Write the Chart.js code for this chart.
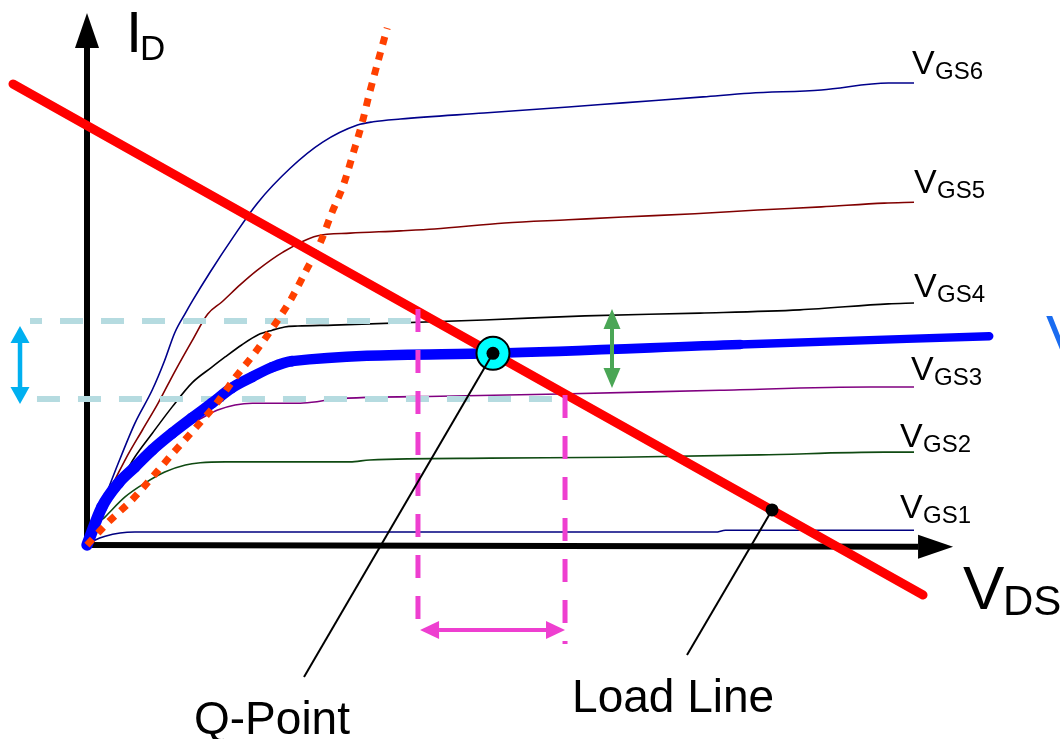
<!DOCTYPE html>
<html><head><meta charset="utf-8">
<script src="https://cdn.jsdelivr.net/npm/chart.js@4.4.1/dist/chart.umd.min.js"></script>
<style>html,body{margin:0;padding:0;background:#fff;}#wrap{width:1060px;height:739px;position:relative;}</style>
</head><body><div id="wrap"><canvas id="c"></canvas></div>
<script>
// ---- data (VDS, ID in arbitrary units) ----
const vgs1 = [[0,0],[0.10,0.11],[0.22,0.19],[0.40,0.26],[0.58,0.28],[3.8,0.28],[7.6,0.28],[7.72,0.32],[10,0.32]];
const vgs2 = [[0,0],[0.06,0.33],[0.22,0.61],[0.46,1.04],[0.70,1.34],[0.94,1.58],[1.19,1.73],[1.37,1.78],[1.67,1.80],[3.18,1.80],[3.42,1.84],[4.87,1.88],[6.44,1.90],[8.14,1.95],[9.64,2.01],[10,2.01]];
const vgs3 = [[0,0],[0.10,0.48],[0.22,0.82],[0.38,1.19],[0.58,1.62],[0.79,1.99],[0.98,2.34],[1.19,2.55],[1.39,2.75],[1.58,2.92],[1.79,3.03],[2.00,3.07],[2.58,3.07],[2.78,3.10],[2.98,3.16],[4.27,3.22],[5.72,3.27],[7.65,3.35],[9.47,3.42],[10,3.42]];
const vgs4 = [[0,0],[0.10,0.48],[0.30,1.04],[0.58,1.91],[0.79,2.42],[1.03,2.99],[1.27,3.51],[1.51,3.85],[1.67,4.07],[1.87,4.33],[2.07,4.55],[2.24,4.65],[2.39,4.72],[2.55,4.74],[2.98,4.76],[4.80,4.87],[6.02,4.96],[7.41,5.02],[8.62,5.09],[9.69,5.22],[10,5.24]];
const vgs5 = [[0,0],[0.10,0.43],[0.22,0.97],[0.46,1.84],[0.67,2.49],[0.86,3.07],[1.06,3.75],[1.27,4.42],[1.46,5.00],[1.63,5.26],[1.85,5.63],[2.06,5.95],[2.37,6.34],[2.78,6.69],[3.18,6.75],[3.79,6.80],[4.20,6.84],[5.05,6.97],[5.82,7.04],[6.48,7.10],[7.35,7.17],[8.11,7.25],[8.88,7.32],[9.64,7.40],[10,7.42]];
const vgs6 = [[0,0],[0.22,1.04],[0.38,1.78],[0.58,2.64],[0.79,3.36],[0.94,4.00],[1.06,4.59],[1.19,5.02],[1.28,5.30],[1.49,5.91],[1.77,6.67],[2.06,7.40],[2.46,8.16],[2.85,8.72],[3.27,9.09],[3.46,9.16],[3.79,9.22],[4.80,9.35],[5.82,9.48],[6.48,9.57],[7.45,9.70],[8.01,9.78],[8.88,9.85],[9.69,10.0],[10,10.0]];
const operating = [[0,0],[0.18,0.82],[0.38,1.34],[0.58,1.69],[0.79,2.06],[1.03,2.42],[1.27,2.75],[1.51,3.07],[1.75,3.40],[2.00,3.64],[2.24,3.85],[2.48,3.98],[4.91,4.15],[7.90,4.34],[10.91,4.52]];
const saturationEdge = [[0,0],[0.25,0.48],[0.54,0.97],[0.79,1.47],[1.04,1.99],[1.31,2.53],[1.55,3.03],[1.79,3.62],[2.03,4.16],[2.25,4.72],[2.46,5.30],[2.64,5.91],[2.82,6.54],[2.96,7.19],[3.10,7.79],[3.22,8.49],[3.33,9.16],[3.42,9.81],[3.63,11.19]];
const loadLine = [[-0.895,9.978],[10.109,-1.082]];
const qPoint = [[4.909,4.15]];
const loadPoint = [[8.283,0.76]];
const idHigh = [[-0.689,4.848],[4.002,4.848]];
const idLow  = [[-0.605,3.160],[5.780,3.160]];
const vdsLow  = [[4.002,5.108],[4.002,-1.775]];
const vdsHigh = [[5.780,3.247],[5.780,-2.143]];
const qLeader = [[4.909,4.15],[2.624,-2.857]];
const loadLeader = [[8.283,0.76],[7.255,-2.381]];
const idSwing = [[-0.81,4.740],[-0.81,3.052]];
const vgsSwing = [[6.348,5.108],[6.348,3.398]];
const vdsSwing = [[4.027,-1.840],[5.780,-1.840]];
const vgsNames = ['GS1','GS2','GS3','GS4','GS5','GS6'];
const vgsLabelPos = [[9.831,0.584],[9.831,2.121],[9.964,3.571],[10.0,5.368],[10.0,7.619],[9.976,10.195]];
const xRange = [-1.052, 11.765];
const yRange = [-4.199, 11.797];

const pts = a => a.map(p => ({x:p[0], y:p[1]}));
function line(data, color, width, order, extra){
  return Object.assign({data: pts(data), showLine:true, borderColor:color, backgroundColor:color,
    borderWidth:width, pointRadius:0, pointHoverRadius:0, order:order, tension:0}, extra||{});
}
const curveColors = ['#000080','#0f4a12','#800080','#000000','#800000','#00008b'];
const datasets = [];
[vgs1,vgs2,vgs3,vgs4,vgs5,vgs6].forEach((c,i)=>datasets.push(line(c, curveColors[i], 1.6, 100, {cubicInterpolationMode:'monotone'})));
datasets.push(line(idHigh, '#b5dbe0', 6, 90, {borderDash:[23,18], borderDashOffset:11}));
datasets.push(line(idLow, '#b5dbe0', 6, 90, {borderDash:[23,18]}));
datasets.push(line(operating, '#0000ff', 8, 80, {cubicInterpolationMode:'monotone', borderCapStyle:'round', borderJoinStyle:'round',
  segment:{borderWidth: c => 11.5 - 4.3 * Math.min(1, c.p0.parsed.x / 10.9)}}));
datasets.push(line(saturationEdge, '#ff4000', 7, 70, {cubicInterpolationMode:'monotone', borderDash:[8,8]}));
datasets.push(line(loadLine, '#ff0000', 9, 60, {borderCapStyle:'round'}));
datasets.push(line(vdsLow, '#ee3fd0', 5, 50, {borderDash:[23,18]}));
datasets.push(line(vdsHigh, '#ee3fd0', 5, 50, {borderDash:[23,18]}));
datasets.push({data: pts(qPoint), showLine:false, pointRadius:16.5, pointBackgroundColor:'#00ffff', pointBorderColor:'#000', pointBorderWidth:2, order:40});
datasets.push(line(qLeader, '#000000', 2, 30));
datasets.push(line(loadLeader, '#000000', 2, 30));
datasets.push({data: pts(qPoint), showLine:false, pointRadius:6.5, pointBackgroundColor:'#000', pointBorderWidth:0, order:20});
datasets.push({data: pts(loadPoint), showLine:false, pointRadius:6.5, pointBackgroundColor:'#000', pointBorderWidth:0, order:20});

function head(ctx, tx, ty, bx, by, half){
  const dx=tx-bx, dy=ty-by, L=Math.hypot(dx,dy), nx=-dy/L, ny=dx/L;
  ctx.beginPath(); ctx.moveTo(tx,ty); ctx.lineTo(bx+nx*half,by+ny*half); ctx.lineTo(bx-nx*half,by-ny*half); ctx.closePath(); ctx.fill();
}
function arrow(ctx, p1, p2, color, w, hl, hh, both){
  const dx=p2.x-p1.x, dy=p2.y-p1.y, L=Math.hypot(dx,dy), ux=dx/L, uy=dy/L;
  const b1 = both ? {x:p1.x+ux*hl, y:p1.y+uy*hl} : p1;
  const b2 = {x:p2.x-ux*hl, y:p2.y-uy*hl};
  ctx.save(); ctx.strokeStyle=color; ctx.fillStyle=color; ctx.lineWidth=w; ctx.lineCap='butt';
  ctx.beginPath(); ctx.moveTo(b1.x,b1.y); ctx.lineTo(b2.x,b2.y); ctx.stroke();
  head(ctx,p2.x,p2.y,b2.x,b2.y,hh); if(both) head(ctx,p1.x,p1.y,b1.x,b1.y,hh);
  ctx.restore();
}
const deco = {
  id:'deco',
  beforeDatasetsDraw(chart){
    const ctx=chart.ctx, X=chart.scales.x, Y=chart.scales.y;
    const P=(a)=>({x:X.getPixelForValue(a[0]), y:Y.getPixelForValue(a[1])});
    arrow(ctx, P([0,0]), P([0,11.515]), '#000', 6, 35, 12, false);
    arrow(ctx, P([0,0]), P([10.472,-0.04]), '#000', 6, 35, 12, false);
  },
  afterDatasetsDraw(chart){
    const ctx=chart.ctx, X=chart.scales.x, Y=chart.scales.y;
    const P=(a)=>({x:X.getPixelForValue(a[0]), y:Y.getPixelForValue(a[1])});
    arrow(ctx, P(idSwing[0]), P(idSwing[1]), '#00b0f0', 4.5, 17, 9.5, true);
    arrow(ctx, P(vgsSwing[0]), P(vgsSwing[1]), '#4aa655', 4, 20, 8.5, true);
    arrow(ctx, P(vdsSwing[0]), P(vdsSwing[1]), '#ee3fd0', 4, 19, 9, true);
    ctx.save();
    ctx.fillStyle='#000'; ctx.textBaseline='alphabetic'; ctx.textAlign='left';
    const F='"Liberation Sans", Arial, sans-serif';
    vgsNames.forEach((n,i)=>{
      const p=P(vgsLabelPos[i]);
      ctx.font='34px '+F; ctx.fillText('V', p.x, p.y);
      ctx.font='24px '+F; ctx.fillText(n, p.x+23, p.y+5);
    });
    let p=P([0.472,10.671]); ctx.font='58px '+F; ctx.fillText('I', p.x, p.y);
    ctx.font='35px '+F; ctx.fillText('D', p.x+14, p.y+8);
    p=P([10.592,-1.385]); ctx.font='62px '+F; ctx.fillText('V', p.x, p.y);
    ctx.font='42px '+F; ctx.fillText('DS', p.x+40, p.y+6);
    p=P([1.294,-4.091]); ctx.font='46px '+F; ctx.fillText('Q-Point', p.x, p.y);
    p=P([5.865,-3.615]); ctx.fillText('Load Line', p.x, p.y);
    p=P([11.596,4.069]); ctx.fillStyle='#1a6cf0'; ctx.font='60px '+F; ctx.fillText('V', p.x, p.y);
    ctx.restore();
  }
};

new Chart(document.getElementById('c'), {
  type:'scatter',
  data:{datasets},
  options:{
    responsive:true, maintainAspectRatio:false, animation:false, devicePixelRatio:1,
    layout:{padding:0, autoPadding:false},
    plugins:{legend:{display:false}, tooltip:{enabled:false}, title:{display:false}},
    events:[],
    scales:{
      x:{type:'linear', min:xRange[0], max:xRange[1], display:false},
      y:{type:'linear', min:yRange[0], max:yRange[1], display:false}
    }
  },
  plugins:[deco]
});
</script></body></html>
